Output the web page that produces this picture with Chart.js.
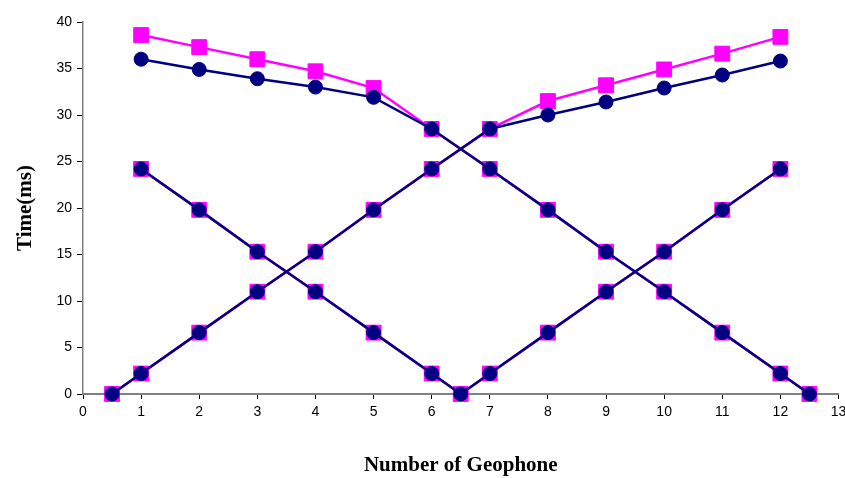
<!DOCTYPE html>
<html>
<head>
<meta charset="utf-8">
<script src="https://cdn.jsdelivr.net/npm/chart.js@4/dist/chart.umd.min.js"></script>
<style>
  body { margin: 0; background: #fff; overflow: hidden; }
  canvas { display: block; }
</style>
</head>
<body>
<!-- a bit wider than the window: point overflow padding would otherwise push the axis end left -->
<canvas id="geoChart" width="850" height="478"></canvas>
<script>
// geophone positions
const riseX = [0.5, 1, 2, 3, 4, 5, 6, 7, 8, 9, 10, 11, 12];
const fallX = [1, 2, 3, 4, 5, 6, 7, 8, 9, 10, 11, 12, 12.5];
const vX = [1, 2, 3, 4, 5, 6, 6.5, 7, 8, 9, 10, 11, 12];

// travel times (ms), navy series
const navyRise = [0, 2.2, 6.6, 11, 15.3, 19.8, 24.2, 28.5, 30, 31.4, 32.9, 34.3, 35.8];
const navyFall = [36, 34.9, 33.9, 33, 31.9, 28.5, 24.2, 19.8, 15.3, 11, 6.6, 2.2, 0];
const navyV = [24.2, 19.8, 15.3, 11, 6.6, 2.2, 0, 2.2, 6.6, 11, 15.3, 19.8, 24.2];

// travel times (ms), magenta series
const magRise = [0, 2.2, 6.6, 11, 15.3, 19.8, 24.2, 28.5, 31.5, 33.2, 34.9, 36.6, 38.4];
const magFall = [38.6, 37.3, 36, 34.7, 32.9, 28.5, 24.2, 19.8, 15.3, 11, 6.6, 2.2, 0];
const magV = [24.2, 19.8, 15.3, 11, 6.6, 2.2, 0, 2.2, 6.6, 11, 15.3, 19.8, 24.2];

const xTicks = [0, 1, 2, 3, 4, 5, 6, 7, 8, 9, 10, 11, 12, 13];
const yTicks = [0, 5, 10, 15, 20, 25, 30, 35, 40];

const NAVY = "#000080";
const MAGENTA = "#FF00FF";

function pts(xs, ys) {
  return xs.map((x, i) => ({ x: x, y: ys[i] }));
}

function navySet(xs, ys) {
  return {
    data: pts(xs, ys),
    showLine: true,
    clip: false,
    borderColor: NAVY,
    borderWidth: 2.5,
    pointStyle: "circle",
    pointRadius: 7,
    pointBorderWidth: 1,
    pointBackgroundColor: NAVY,
    pointBorderColor: NAVY
  };
}

function magSet(xs, ys) {
  return {
    data: pts(xs, ys),
    showLine: true,
    clip: false,
    borderColor: MAGENTA,
    borderWidth: 2.5,
    pointStyle: "rect",
    pointRadius: 10.5,
    pointBorderWidth: 1,
    pointBackgroundColor: MAGENTA,
    pointBorderColor: MAGENTA
  };
}

new Chart(document.getElementById("geoChart"), {
  type: "scatter",
  data: {
    datasets: [
      navySet(riseX, navyRise),
      navySet(fallX, navyFall),
      navySet(vX, navyV),
      magSet(riseX, magRise),
      magSet(fallX, magFall),
      magSet(vX, magV)
    ]
  },
  options: {
    responsive: false,
    animation: false,
    layout: { padding: { top: 22, right: 0, bottom: 0, left: 0 } },
    plugins: { legend: { display: false }, tooltip: { enabled: false } },
    scales: {
      x: {
        type: "linear",
        min: 0,
        max: 13,
        afterBuildTicks: s => { s.ticks = xTicks.map(v => ({ value: v })); },
        afterFit: s => { s.height = 84; s.paddingLeft = 0; s.paddingRight = 0; },
        border: { color: "#808080", width: 2 },
        grid: { drawOnChartArea: false, color: "#000", tickLength: 5, tickWidth: 1 },
        ticks: { color: "#000", padding: 5, maxRotation: 0, font: { family: "Liberation Sans", size: 14 } },
        title: {
          display: true,
          text: "Number of Geophone",
          color: "#000",
          padding: { top: 0, bottom: 0 },
          font: { family: "Liberation Serif", size: 21, weight: "bold" }
        }
      },
      y: {
        type: "linear",
        min: 0,
        max: 40,
        afterBuildTicks: s => { s.ticks = yTicks.map(v => ({ value: v })); },
        afterFit: s => { s.width = 83; s.paddingTop = 0; s.paddingBottom = 0; },
        border: { color: "#808080", width: 1.5 },
        grid: { drawOnChartArea: false, color: "#000", tickLength: 6, tickWidth: 1 },
        ticks: { color: "#000", padding: 5, font: { family: "Liberation Sans", size: 14 } },
        title: {
          display: true,
          text: "Time(ms)",
          color: "#000",
          padding: { top: 13, bottom: 0 },
          font: { family: "Liberation Serif", size: 21, weight: "bold" }
        }
      }
    }
  }
});
</script>
</body>
</html>
